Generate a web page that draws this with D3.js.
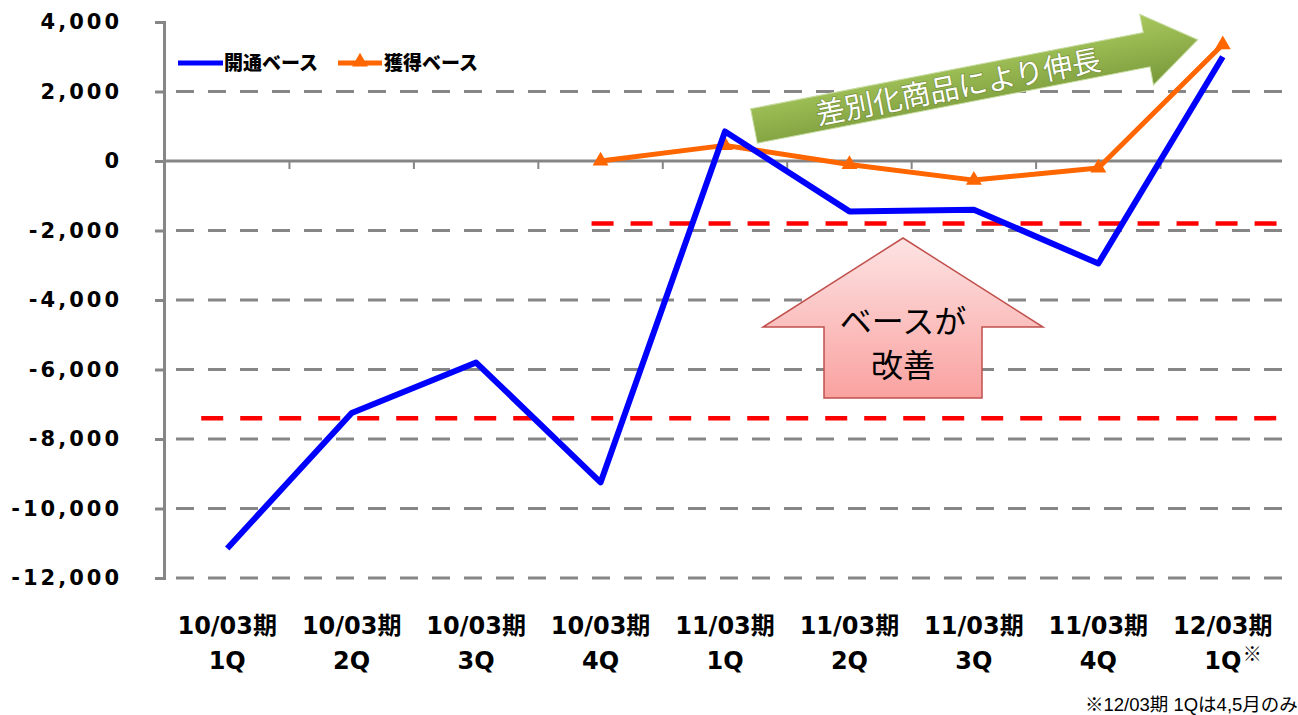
<!DOCTYPE html>
<html lang="ja">
<head>
<meta charset="utf-8">
<script src="https://cdn.jsdelivr.net/npm/d3@7/dist/d3.min.js"></script>
<style>
  html, body { margin: 0; padding: 0; background: #fff; }
  svg { display: block; }
</style>
</head>
<body>
<svg id="chart" width="1298" height="715"></svg>
<script>
// Quarterly periods
const periodTop = ["10/03期", "10/03期", "10/03期", "10/03期", "11/03期", "11/03期", "11/03期", "11/03期", "12/03期"];
const periodBottom = ["1Q", "2Q", "3Q", "4Q", "1Q", "2Q", "3Q", "4Q", "1Q"];

// Series values
const kaitsuBase = [-11150, -7250, -5800, -9250, 850, -1450, -1400, -2950, 3000];
const kakutokuBase = [null, null, null, 0, 450, -100, -550, -200, 3350];

// Axis ticks
const yTicks = [4000, 2000, 0, -2000, -4000, -6000, -8000, -10000, -12000];

// Reference levels (value, first period index)
const refLevels = [-1800, -7400];
const refStart = [3, 0];

const seriesNames = ["開通ベース", "獲得ベース"];
const footnote = "※12/03期 1Qは4,5月のみ";

const svg = d3.select("#chart");
const gray = "#868686";

const x = d3.scaleBand().domain(d3.range(periodTop.length)).range([165, 1285]);
const cx = i => x(i) + x.bandwidth() / 2;
const y = d3.scaleLinear().domain([-12000, 4000]).range([578, 22]);
const plotLeft = 164, plotRight = 1282;

// Thousands separator with a plain hyphen for negatives
const fmt = d => (d < 0 ? "-" : "") + d3.format(",")(Math.abs(d));

// Dashed gridlines
svg.append("g")
  .selectAll("line")
  .data(yTicks.filter(t => t !== 0 && t !== 4000))
  .join("line")
  .attr("x1", plotLeft + 12).attr("x2", plotRight)
  .attr("y1", d => y(d)).attr("y2", d => y(d))
  .attr("stroke", gray).attr("stroke-width", 3)
  .attr("stroke-dasharray", "18,14");

// Y axis
const yAxis = d3.axisLeft(y).tickValues(yTicks).tickSize(9).tickPadding(36)
  .tickFormat(fmt);
const yg = svg.append("g").attr("transform", `translate(${plotLeft},0)`).call(yAxis);
yg.select(".domain").attr("stroke", gray).attr("stroke-width", 3);
yg.selectAll(".tick line").attr("stroke", gray).attr("stroke-width", 3);
yg.selectAll(".tick text")
  .attr("fill", "#000")
  .style("font-family", "'DejaVu Sans', sans-serif")
  .style("font-weight", "bold")
  .style("font-size", "21px")
  .style("letter-spacing", "3px")
  .attr("dx", "3px");

// Zero line with period boundary ticks
svg.append("line")
  .attr("x1", plotLeft).attr("x2", plotRight)
  .attr("y1", y(0)).attr("y2", y(0))
  .attr("stroke", gray).attr("stroke-width", 3);
svg.append("g")
  .selectAll("line")
  .data(d3.range(1, periodTop.length))
  .join("line")
  .attr("x1", d => x(d)).attr("x2", d => x(d))
  .attr("y1", y(0)).attr("y2", y(0) + 8)
  .attr("stroke", gray).attr("stroke-width", 2);

// Category labels
const labels = svg.append("g")
  .style("font-family", "'DejaVu Sans', 'Noto Sans CJK JP', sans-serif")
  .style("font-weight", "bold")
  .style("font-size", "24px")
  .attr("text-anchor", "middle")
  .attr("fill", "#000");
labels.selectAll("text.top")
  .data(periodTop)
  .join("text").attr("class", "top")
  .attr("x", (d, i) => cx(i)).attr("y", 634)
  .text(d => d);
labels.selectAll("text.bottom")
  .data(periodBottom)
  .join("text").attr("class", "bottom")
  .attr("x", (d, i) => cx(i)).attr("y", 669)
  .text(d => d);
svg.append("text")
  .attr("x", cx(8) + 20).attr("y", 661)
  .style("font-family", "'Noto Sans CJK JP', sans-serif")
  .style("font-size", "19px")
  .text("※");

// Red reference levels
svg.append("g")
  .selectAll("line")
  .data(refLevels)
  .join("line")
  .attr("x1", (d, i) => cx(refStart[i]) - (i === 0 ? 9 : 26))
  .attr("x2", plotRight)
  .attr("y1", d => y(d)).attr("y2", d => y(d))
  .attr("stroke", "#ff0000").attr("stroke-width", 4.5)
  .attr("stroke-dasharray", "22,17");

// Pink up-arrow annotation
const defs = svg.append("defs");
const pinkGrad = defs.append("linearGradient")
  .attr("id", "pinkGrad").attr("x1", 0).attr("y1", 0).attr("x2", 0).attr("y2", 1);
pinkGrad.append("stop").attr("offset", "0%").attr("stop-color", "#fde3e3");
pinkGrad.append("stop").attr("offset", "100%").attr("stop-color", "#f9a2a0");
svg.append("path")
  .attr("d", "M903,238 L1043,327 L982,327 L982,398 L824,398 L824,327 L763,327 Z")
  .attr("fill", "url(#pinkGrad)")
  .attr("stroke", "#c0504d").attr("stroke-width", 1.5);
svg.append("g")
  .style("font-family", "'Noto Sans CJK JP', sans-serif")
  .style("font-size", "32px")
  .attr("text-anchor", "middle")
  .selectAll("text")
  .data(["ベースが", "改善"])
  .join("text")
  .attr("x", 903).attr("y", (d, i) => 333 + i * 44)
  .text(d => d);

// Green arrow annotation
const greenGrad = defs.append("linearGradient")
  .attr("id", "greenGrad").attr("x1", 0).attr("y1", 0).attr("x2", 0).attr("y2", 1);
greenGrad.append("stop").attr("offset", "0%").attr("stop-color", "#a9c95e");
greenGrad.append("stop").attr("offset", "100%").attr("stop-color", "#78993a");
const ga = svg.append("g").attr("transform", "translate(754,126) rotate(-11)");
ga.append("path")
  .attr("d", "M0,-17.5 L400,-17.5 L400,-36 L452,0 L400,36 L400,17.5 L0,17.5 Z")
  .attr("fill", "url(#greenGrad)")
  .attr("stroke", "#c6dba0").attr("stroke-width", 1);
ga.append("text")
  .attr("x", 208).attr("y", 11)
  .attr("text-anchor", "middle")
  .attr("fill", "#fff")
  .style("font-family", "'Noto Sans CJK JP', sans-serif")
  .style("font-size", "29px")
  .style("paint-order", "stroke")
  .attr("stroke", "rgba(60,80,20,0.35)").attr("stroke-width", 1.5)
  .text("差別化商品により伸長");

// Series lines
const line = d3.line()
  .defined(d => d != null)
  .x((d, i) => cx(i))
  .y(d => y(d));

svg.append("path")
  .datum(kakutokuBase)
  .attr("d", line)
  .attr("fill", "none")
  .attr("stroke", "#ff6600").attr("stroke-width", 5)
  .attr("stroke-linejoin", "round");

const tri = d3.symbol().type(d3.symbolTriangle).size(110);
svg.append("g")
  .selectAll("path")
  .data(kakutokuBase.map((v, i) => ({ v, i })).filter(d => d.v != null))
  .join("path")
  .attr("d", tri)
  .attr("transform", d => `translate(${cx(d.i)},${y(d.v)})`)
  .attr("fill", "#ff6600");

svg.append("path")
  .datum(kaitsuBase)
  .attr("d", line)
  .attr("fill", "none")
  .attr("stroke", "#0000ff").attr("stroke-width", 6)
  .attr("stroke-linejoin", "round");

// Legend
const legend = svg.append("g")
  .style("font-family", "'Noto Sans CJK JP', sans-serif")
  .style("font-weight", "900")
  .style("font-size", "19px");
legend.append("line")
  .attr("x1", 178).attr("x2", 223).attr("y1", 63).attr("y2", 63)
  .attr("stroke", "#0000ff").attr("stroke-width", 5);
legend.append("text").attr("x", 224).attr("y", 70).text(seriesNames[0]);
legend.append("line")
  .attr("x1", 338).attr("x2", 382).attr("y1", 63).attr("y2", 63)
  .attr("stroke", "#ff6600").attr("stroke-width", 5);
legend.append("path")
  .attr("d", tri)
  .attr("transform", "translate(360,62)")
  .attr("fill", "#ff6600");
legend.append("text").attr("x", 384).attr("y", 70).text(seriesNames[1]);

// Footnote
svg.append("text")
  .attr("x", 1085).attr("y", 711)
  .style("font-family", "'Liberation Sans', 'Noto Sans CJK JP', sans-serif")
  .style("font-size", "18.5px")
  .text(footnote);
</script>
</body>
</html>
